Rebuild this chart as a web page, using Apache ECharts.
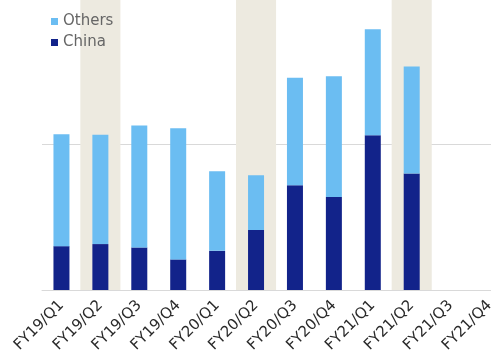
<!DOCTYPE html>
<html>
<head>
<meta charset="utf-8">
<script src="https://cdn.jsdelivr.net/npm/echarts@6/dist/echarts.min.js"></script>
<style>
  html, body { margin: 0; padding: 0; background: #fff; }
  #chart { width: 491px; height: 357px; }
</style>
</head>
<body>
<div id="chart"></div>
<script>
// Quarterly shipments split by region
const quarters = ['FY19/Q1', 'FY19/Q2', 'FY19/Q3', 'FY19/Q4', 'FY20/Q1', 'FY20/Q2',
                  'FY20/Q3', 'FY20/Q4', 'FY21/Q1', 'FY21/Q2', 'FY21/Q3', 'FY21/Q4'];
const china  = [30.1, 31.5, 29.2, 21.0, 26.9, 41.1, 71.9, 63.9, 106.2, 79.9, null, null];
const others = [76.7, 75.1, 83.6, 90.0, 54.6, 37.7, 73.8, 82.7, 72.8, 73.5, null, null];
// Second quarters are shaded across the full height
const shadedQuarters = ['FY19/Q2', 'FY20/Q2', 'FY21/Q2'];

const Y_MAX = 199;
const bandData = quarters.map(q => shadedQuarters.includes(q) ? Y_MAX : null);

const chart = echarts.init(document.getElementById('chart'), null, { renderer: 'canvas' });
chart.setOption({
  animation: false,
  backgroundColor: '#ffffff',
  textStyle: { fontFamily: 'DejaVu Sans' },
  // the plot runs past the right edge, so the last category is cut off
  grid: {
    left: 42, width: 467, top: 0, height: 290,
    containLabel: false,
    outerBoundsMode: 'none'
  },
  legend: {
    orient: 'vertical',
    left: 46,
    top: 9,
    itemWidth: 7,
    itemHeight: 7,
    itemGap: 6,
    icon: 'rect',
    data: ['Others', 'China'],
    textStyle: { fontFamily: 'DejaVu Sans', fontSize: 15, color: '#666666' }
  },
  xAxis: [
    {
      type: 'category',
      data: quarters,
      axisLine: { show: true, lineStyle: { color: '#d9d9d9', width: 1 } },
      axisTick: { show: false },
      axisLabel: {
        rotate: 45,
        interval: 0,
        margin: 13,
        fontFamily: 'DejaVu Sans',
        fontSize: 15,
        color: '#2a2a2a'
      },
      z: 5
    },
    {
      type: 'category',
      data: quarters,
      show: false
    }
  ],
  yAxis: {
    type: 'value',
    min: 0,
    max: Y_MAX,
    interval: 100,
    axisLabel: { show: false },
    axisLine: { show: false },
    axisTick: { show: false },
    splitLine: { show: true, showMinLine: false, showMaxLine: false, lineStyle: { color: '#d9d9d9', width: 1 } }
  },
  series: [
    {
      name: 'band',
      type: 'bar',
      xAxisIndex: 1,
      barWidth: '103%',
      data: bandData,
      itemStyle: { color: '#edeae0' },
      silent: true,
      z: 0
    },
    {
      name: 'China',
      type: 'bar',
      stack: 'total',
      barWidth: 16,
      data: china,
      itemStyle: { color: '#12238a' },
      z: 3
    },
    {
      name: 'Others',
      type: 'bar',
      stack: 'total',
      barWidth: 16,
      data: others,
      itemStyle: { color: '#6bbdf2' },
      z: 3
    }
  ]
});
</script>
</body>
</html>
